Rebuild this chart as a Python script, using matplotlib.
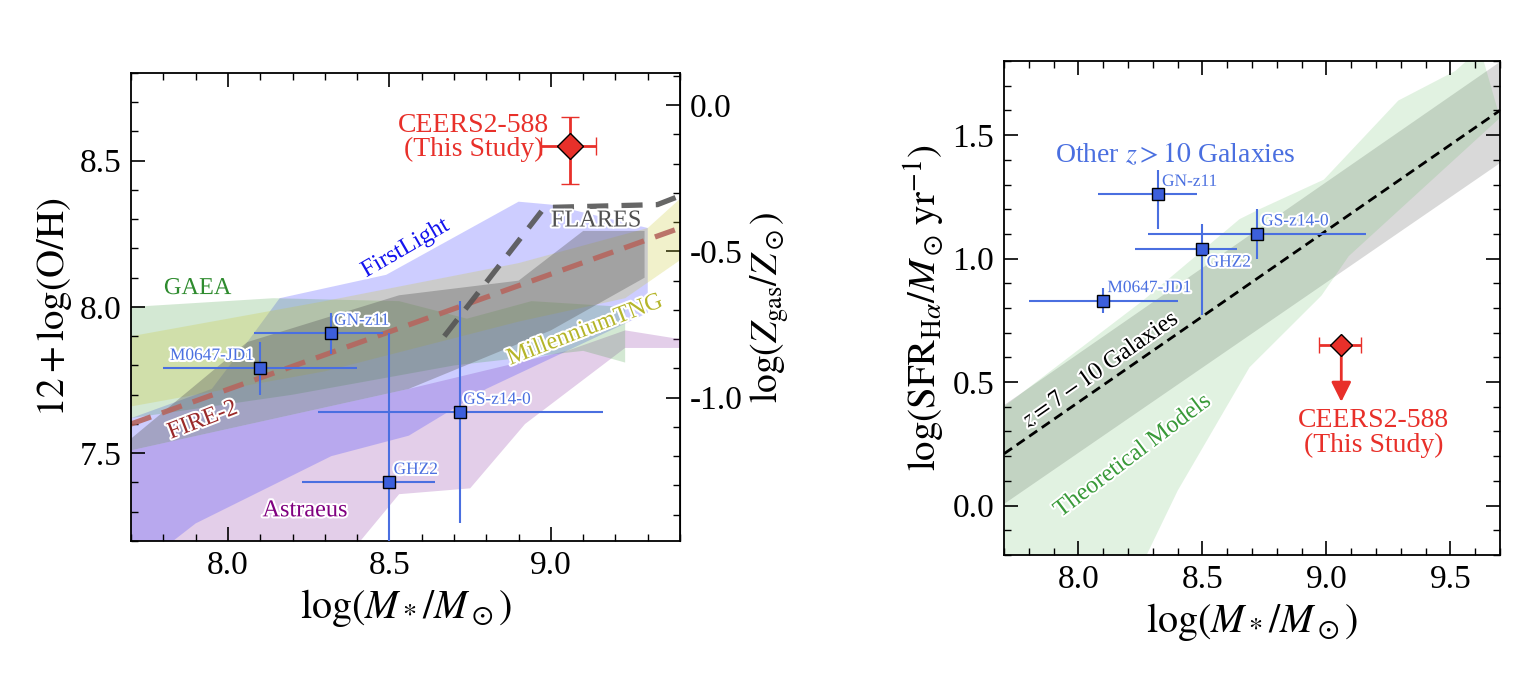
import numpy as np
import matplotlib
matplotlib.use('Agg')
import matplotlib.pyplot as plt
import matplotlib.patheffects as pe
from matplotlib.ticker import MultipleLocator

plt.rcParams['font.family'] = ['Liberation Serif', 'DejaVu Serif']
plt.rcParams['mathtext.fontset'] = 'stix'
plt.rcParams['axes.unicode_minus'] = False

# ---- other z>10 galaxies ----
names = ['M0647-JD1', 'GN-z11', 'GHZ2', 'GS-z14-0']
mass = [8.10, 8.32, 8.50, 8.72]
mass_lo = [0.30, 0.24, 0.27, 0.44]
mass_hi = [0.30, 0.16, 0.14, 0.44]
oh = [7.79, 7.91, 7.40, 7.64]
oh_lo = [0.09, 0.07, 0.55, 0.38]
oh_hi = [0.09, 0.07, 0.51, 0.38]
sfr = [0.83, 1.26, 1.04, 1.10]
sfr_lo = [0.05, 0.14, 0.27, 0.10]
sfr_hi = [0.05, 0.10, 0.10, 0.10]

# ---- CEERS2-588 ----
ceers_mass = 9.06
ceers_mass_err = [0.09, 0.08]
ceers_oh = 8.55
ceers_oh_err = [0.13, 0.10]
ceers_sfr_lim = 0.65
ceers_sfr_arrow_end = 0.42

# solar oxygen abundance for the right-hand axis
oh_sun = 8.69

# ---- model bands, left panel (polygon outlines) ----
astraeus_x = [7.7, 7.7, 8.56, 9.05, 9.23, 9.4, 9.4, 9.23, 8.92, 8.75, 8.53, 8.41]
astraeus_y = [7.2, 7.51, 7.72, 7.85, 7.92, 7.89, 7.86, 7.86, 7.60, 7.38, 7.36, 7.2]
firstlight_x = [7.7, 7.95, 8.06, 8.16, 8.49, 8.9, 9.0, 9.3, 9.3, 8.8, 8.56, 8.32, 7.9, 7.83, 7.7]
firstlight_y = [7.62, 7.72, 7.88, 8.03, 8.11, 8.36, 8.35, 8.27, 7.98, 7.72, 7.56, 7.49, 7.26, 7.2, 7.2]
gaea_x = [7.7, 8.14, 8.53, 8.74, 8.94, 9.23, 9.23, 9.1, 8.7, 8.2, 7.7]
gaea_y = [8.00, 8.03, 8.02, 7.96, 8.02, 8.00, 7.81, 7.85, 7.80, 7.70, 7.62]
mtng_x = [7.7, 8.3, 8.9, 9.3, 9.4, 9.4, 9.23, 8.9, 8.3, 7.7]
mtng_y = [7.90, 8.02, 8.15, 8.27, 8.37, 8.16, 8.03, 7.95, 7.78, 7.66]
flares_x = [7.7, 8.06, 8.53, 8.9, 9.1, 9.29, 9.29, 9.0, 8.56, 7.7]
flares_y = [7.55, 7.88, 8.04, 8.09, 8.26, 8.26, 8.10, 7.92, 7.72, 7.51]

fire2_x = [7.7, 9.4]
fire2_y = [7.60, 8.27]
flares_line_x = [8.67, 8.98, 9.33, 9.40]
flares_line_y = [7.90, 8.34, 8.35, 8.38]

# ---- right panel ----
ms_line_x = [7.7, 9.7]
ms_line_y = [0.21, 1.60]
ms_band_lo = [0.01, 1.39]
ms_band_hi = [0.41, 1.80]
theo_up_x = [7.7, 7.79, 8.26, 8.65, 8.73, 8.99, 9.29, 9.52, 9.62]
theo_up_y = [0.40, 0.47, 0.83, 1.16, 1.20, 1.32, 1.64, 1.76, 1.85]
theo_lo_x = [9.7, 9.09, 8.98, 8.69, 8.40, 8.275, 8.2, 7.7]
theo_lo_y = [1.57, 1.01, 0.85, 0.56, 0.06, -0.2, -0.3, -0.3]

red = '#e8302a'
blue = '#3c5fdc'
eblue = '#4a6fe0'
glow = [pe.withStroke(linewidth=3, foreground='white')]

fig = plt.figure(figsize=(15.4, 6.86), dpi=100)
ax1 = fig.add_axes([0.0851, 0.2114, 0.3565, 0.6822])
ax2 = fig.add_axes([0.652, 0.191, 0.322, 0.720])


def style_axis(ax, right=True):
    ax.tick_params(which='both', direction='in', top=True, right=right, labelsize=24)
    ax.tick_params(which='major', length=10, width=1.2, pad=7)
    ax.tick_params(which='minor', length=5, width=1.0)
    ax.xaxis.set_minor_locator(MultipleLocator(0.1))
    ax.yaxis.set_minor_locator(MultipleLocator(0.1))
    for s in ax.spines.values():
        s.set_linewidth(1.3)


# ================= left panel =================
ax1.fill(astraeus_x, astraeus_y, color='#9b4fb0', alpha=0.28, lw=0, zorder=1)
ax1.fill(firstlight_x, firstlight_y, color='#3a3aff', alpha=0.25, lw=0, zorder=1)
ax1.fill(gaea_x, gaea_y, color='#3a9a3a', alpha=0.22, lw=0, zorder=1)
ax1.fill(mtng_x, mtng_y, color='#c8c830', alpha=0.25, lw=0, zorder=1)
ax1.fill(flares_x, flares_y, color='#5a5a5a', alpha=0.36, lw=0, zorder=1)

ax1.plot(fire2_x, fire2_y, color='#b5665f', lw=3.8, dashes=(4, 2.2), alpha=0.9, zorder=2)
ax1.plot(flares_line_x, flares_line_y, color='#555555', lw=3.8, dashes=(4, 2.5), alpha=0.9, zorder=2)

ax1.errorbar(mass, oh, xerr=[mass_lo, mass_hi], yerr=[oh_lo, oh_hi], fmt='s', ms=9,
             mfc=blue, mec='k', mew=1, ecolor=eblue, elinewidth=1.5, capsize=0, zorder=5)
ax1.errorbar([ceers_mass], [ceers_oh], xerr=[[ceers_mass_err[0]], [ceers_mass_err[1]]],
             yerr=[[ceers_oh_err[0]], [ceers_oh_err[1]]], fmt='D', ms=13, mfc=red, mec='k',
             mew=1, ecolor=red, elinewidth=2, capsize=6.5, capthick=2, zorder=6)

offs1 = [(-65, 9), (2, 9), (3, 9), (2, 9)]
for n, x, y, o in zip(names, mass, oh, offs1):
    ax1.annotate(n, (x, y), xytext=o, textcoords='offset points', ha='left', va='center',
                 fontsize=12.5, color=eblue, path_effects=glow, zorder=7)

ax1.text(8.76, 8.58, 'CEERS2-588\n(This Study)', ha='center', va='center', color=red,
         fontsize=20, linespacing=0.95, zorder=7)
ax1.text(9.0, 8.294, 'FLARES', ha='left', va='center', color='#505050', fontsize=17.5,
         path_effects=glow, zorder=7)
ax1.text(8.55, 8.20, 'FirstLight', ha='center', va='center', color='#1515ee', fontsize=17.5,
         rotation=30, path_effects=glow, zorder=7)
ax1.text(7.906, 8.063, 'GAEA', ha='center', va='center', color='#2e8b2e', fontsize=17.5,
         path_effects=glow, zorder=7)
ax1.text(9.106, 7.92, 'MillenniumTNG', ha='center', va='center', color='#b5b52a',
         fontsize=17.5, rotation=21, path_effects=glow, zorder=7)
ax1.text(7.922, 7.611, 'FIRE-2', ha='center', va='center', color='#9b2a2a', fontsize=17.5,
         rotation=21, path_effects=glow, zorder=7)
ax1.text(8.239, 7.303, 'Astraeus', ha='center', va='center', color='#800080', fontsize=17.5,
         path_effects=glow, zorder=7)

ax1.set_xlim(7.7, 9.4)
ax1.set_ylim(7.2, 8.8)
ax1.set_xticks([8.0, 8.5, 9.0])
ax1.set_yticks([7.5, 8.0, 8.5])
style_axis(ax1, right=False)
ax1.set_xlabel(r'$\log(M_*/M_\odot)$', fontsize=29)
ax1.set_ylabel(r'$12+\log(\mathrm{O/H})$', fontsize=28)

sec = ax1.secondary_yaxis('right', functions=(lambda y: y - oh_sun, lambda z: z + oh_sun))
sec.set_yticks([-1.0, -0.5, 0.0])
sec.yaxis.set_minor_locator(MultipleLocator(0.1))
sec.tick_params(which='both', direction='in', labelsize=24)
sec.tick_params(which='major', length=10, width=1.2, pad=7)
sec.tick_params(which='minor', length=5, width=1.0)
sec.set_ylabel(r'$\log(Z_\mathrm{gas}/Z_\odot)$', fontsize=27)

# ================= right panel =================
ax2.fill_between(ms_line_x, ms_band_lo, ms_band_hi, color='#8a8a8a', alpha=0.32, lw=0, zorder=1)
ax2.fill(theo_up_x + theo_lo_x, theo_up_y + theo_lo_y, color='#5cb85c', alpha=0.18, lw=0, zorder=1)
ax2.plot(ms_line_x, ms_line_y, color='k', lw=2, dashes=(3.5, 2), zorder=3)

ax2.errorbar(mass, sfr, xerr=[mass_lo, mass_hi], yerr=[sfr_lo, sfr_hi], fmt='s', ms=8.5,
             mfc=blue, mec='k', mew=1, ecolor=eblue, elinewidth=1.5, capsize=0, zorder=5)
ax2.errorbar([ceers_mass], [ceers_sfr_lim], xerr=[[ceers_mass_err[0]], [ceers_mass_err[1]]],
             fmt='D', ms=11, mfc=red, mec='k', mew=1, ecolor=red, elinewidth=2,
             capsize=6, capthick=2, zorder=6)
ax2.annotate('', xy=(ceers_mass, ceers_sfr_arrow_end), xytext=(ceers_mass, ceers_sfr_lim),
             arrowprops=dict(arrowstyle='-|>,head_length=0.6,head_width=0.3', color=red,
                             lw=2, mutation_scale=20, shrinkA=0, shrinkB=0), zorder=5)

offs2 = [(3, 9), (3, 9), (3, -10), (3, 9)]
for n, x, y, o in zip(names, mass, sfr, offs2):
    ax2.annotate(n, (x, y), xytext=o, textcoords='offset points', ha='left', va='center',
                 fontsize=12.5, color=eblue, path_effects=glow, zorder=7)

ax2.text(8.39, 1.42, r'Other $z>10$ Galaxies', ha='center', va='center', color=eblue,
         fontsize=20, zorder=7)
ax2.text(8.09, 0.55, r'$z=7-10$ Galaxies', ha='center', va='center', color='k',
         fontsize=17.5, rotation=35, path_effects=glow, zorder=7)
ax2.text(8.22, 0.20, 'Theoretical Models', ha='center', va='center', color='#3a9a3a',
         fontsize=17.5, rotation=37, path_effects=glow, zorder=7)
ax2.text(9.19, 0.294, 'CEERS2-588\n(This Study)', ha='center', va='center', color=red,
         fontsize=20, linespacing=0.95, zorder=7)

ax2.set_xlim(7.7, 9.7)
ax2.set_ylim(-0.2, 1.8)
ax2.set_xticks([8.0, 8.5, 9.0, 9.5])
ax2.set_yticks([0.0, 0.5, 1.0, 1.5])
style_axis(ax2)
ax2.set_xlabel(r'$\log(M_*/M_\odot)$', fontsize=29)
ax2.set_ylabel(r'$\log(\mathrm{SFR}_{\mathrm{H}\alpha}/M_\odot\,\mathrm{yr}^{-1})$', fontsize=28)

fig.savefig('out.png', dpi=100)
